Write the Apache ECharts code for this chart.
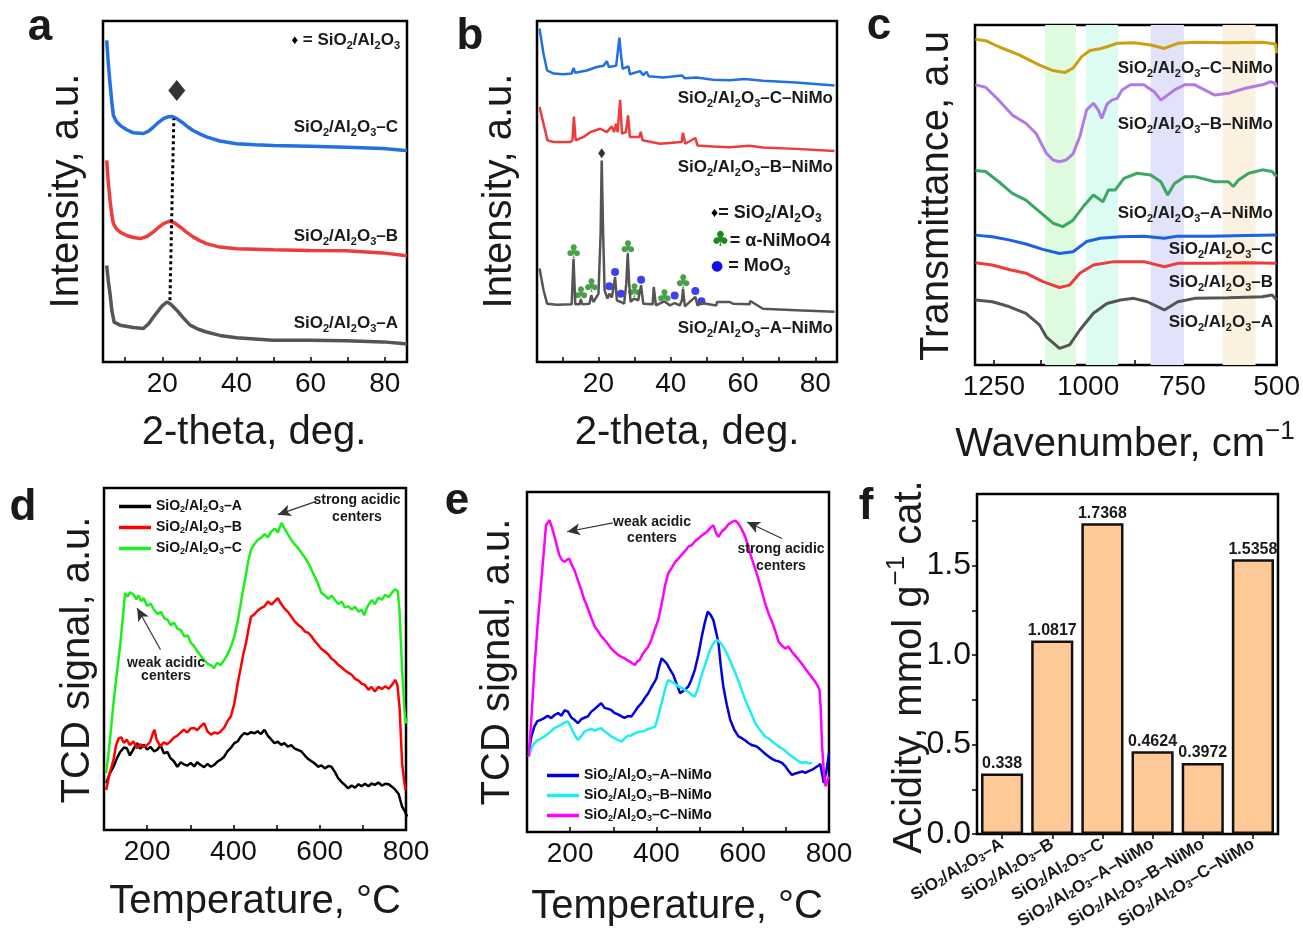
<!DOCTYPE html>
<html>
<head>
<meta charset="utf-8">
<script src="https://cdn.jsdelivr.net/npm/echarts@6/dist/echarts.min.js"></script>
<style>
  html, body { margin: 0; padding: 0; background: #fff; }
  #main { width: 1303px; height: 944px; }
</style>
</head>
<body>
<div id="main"></div>
<script>
// ---- panel a : XRD of supports (2-theta, relative intensity) ----
const xrdA_A = [[5.0,28.3],[5.4,24],[5.9,20.0],[6.4,15],[7.0,11.7],[8.6,10.8],[12.2,10.1],[14.9,9.8],[16.3,11.2],[17.6,13.2],[18.9,15.0],[19.9,16.4],[21.2,17.6],[22.2,17.0],[23.9,15.2],[25.6,13.0],[27.5,10.8],[29.7,9.6],[31.9,8.8],[35.5,7.8],[40,7.1],[49.9,6.4],[59.7,6.4],[69.6,6.2],[79.5,5.9],[84.8,5.4],[86,5.3]];
const xrdA_B = [[5.0,59.1],[5.4,53],[5.9,47.4],[6.4,43],[6.8,40.6],[7.6,39.1],[8.6,38.1],[10.4,37.1],[12.2,36.5],[14.0,36.2],[15.8,36.8],[17.6,38.1],[19.0,39.5],[20.3,40.6],[22.0,41.3],[23.4,40.7],[24.8,39.6],[26.5,38.1],[28.3,36.7],[30.1,35.6],[31.9,34.7],[35.5,33.7],[40,33.2],[49.9,32.9],[59.7,32.7],[69.6,32.6],[79.5,32.0],[84.8,31.3],[86,31.2]];
const xrdA_C = [[5.0,94.3],[5.4,88],[5.9,81.6],[6.4,76],[6.8,72.3],[7.6,70.5],[8.6,69.4],[10.4,68.1],[12.2,67.2],[14.9,67.0],[16.3,67.7],[17.6,68.9],[19.0,70.3],[20.3,71.4],[21.5,71.9],[22.7,72.0],[24.0,71.3],[25.2,70.4],[26.8,69.0],[28.3,67.9],[30.1,66.9],[31.9,66.0],[35.5,64.8],[40,64.0],[45,63.7],[49.9,63.5],[59.7,63.3],[69.6,63.0],[79.5,62.6],[84.8,62.1],[86,62.0]];
const aPeakMark = [[23.9, 79.6]];
const aGuide = [[22.06, 18.1], [23.1, 71.4]];
const aTickValues = [10, 20, 30, 40, 50, 60, 70, 80];
const aLabelValues = [20, 40, 60, 80];

// ---- panel b : XRD of NiMo catalysts ----
const xrdB_A = [[3.7,27.4],[4.8,21.1],[5.8,17.1],[8.5,16.8],[12.6,16.9],[13.1,30.3],[13.6,16.9],[14.8,16.9],[15.1,18.3],[15.6,16.9],[17.5,17.1],[18.0,19.6],[18.6,17.6],[20.0,20.0],[20.6,37.6],[20.9,59.1],[21.3,37.6],[21.7,21.0],[22.5,18.6],[23.0,20.0],[23.7,18.9],[24.2,22.0],[24.6,24.9],[25.1,18.1],[26.2,17.6],[27.1,17.1],[27.7,22.9],[28.1,31.8],[28.5,22.9],[28.9,17.6],[29.8,18.6],[31.0,18.1],[31.8,22.5],[32.4,17.1],[35.0,16.9],[35.3,22.0],[35.9,16.6],[38.2,17.8],[39.8,16.6],[41.1,17.3],[42.5,16.6],[43.1,18.1],[43.4,21.5],[43.9,16.3],[46.8,19.1],[47.4,16.6],[48.5,17.3],[52.6,16.6],[52.8,17.6],[56.3,17.6],[57.2,17.1],[61.8,16.9],[62.0,17.9],[65.5,15.6],[74.7,15.2],[85.3,14.7]];
const xrdB_B = [[3.7,74.8],[4.8,69.9],[5.9,65.0],[7.6,64.5],[12.2,64.5],[12.8,65.0],[13.2,72.0],[13.7,65.0],[15.9,66.0],[17.7,67.4],[20.5,68.4],[22.3,67.4],[23.7,69.1],[24.3,67.4],[24.9,69.9],[25.3,67.4],[26.0,76.9],[26.5,67.0],[27.6,67.4],[28.2,72.3],[28.7,66.0],[31.3,66.0],[31.7,67.5],[32.2,65.0],[37.0,64.0],[43.0,64.5],[43.4,67.2],[44.0,64.0],[46.8,65.7],[47.4,63.5],[51.7,63.2],[56.3,63.0],[61.8,63.4],[65.5,62.9],[74.7,62.5],[85.3,61.9]];
const xrdB_C = [[3.7,97.8],[4.8,90.4],[5.8,85.5],[7.6,84.6],[10.3,84.4],[12.6,84.6],[13.1,86.2],[13.6,84.8],[16.8,85.5],[19.5,86.5],[21.4,86.9],[22.3,88.2],[22.9,86.5],[24.9,86.9],[25.4,91.4],[25.8,95.1],[26.2,90.4],[26.7,86.0],[28.3,86.7],[28.7,84.4],[31.5,85.3],[32.4,84.1],[33.3,85.1],[33.9,83.8],[37.9,83.4],[43.2,84.0],[43.9,83.2],[47.1,83.4],[51.7,82.8],[56.3,82.6],[60.4,83.0],[65.5,82.5],[74.7,82.0],[85.3,81.1]];
const bSupportMark = [[20.9, 61.2]];
const bNiMoO4Marks = [[13.1,31.8],[15.1,19.6],[18.0,22.0],[28.1,33.2],[29.9,20.5],[38.2,18.8],[43.4,23.2]];
const bMoO3Marks = [[23.0,22.2],[24.6,26.4],[26.2,20.0],[31.8,24.1],[41.1,19.5],[46.8,20.8],[48.5,17.8]];

// ---- panel c : FTIR (wavenumber, transmittance) ----
const ftirA = [[1299,19.1],[1254,18.6],[1210,17.2],[1165,15.2],[1129,11.8],[1111,8.3],[1076,4.9],[1049,5.9],[1022,10.3],[986,15.2],[950,18.1],[914,19.1],[879,19.6],[843,18.6],[798,16.2],[762,18.6],[717,19.6],[628,19.8],[538,20.1],[512,20.6],[500,19.1]];
const ftirB = [[1299,30.1],[1254,29.4],[1210,28.1],[1165,27.0],[1120,24.5],[1076,22.8],[1049,23.5],[1022,27.0],[986,29.4],[932,30.4],[852,30.4],[798,28.9],[762,29.9],[673,29.9],[583,30.1],[500,29.9]];
const ftirC = [[1299,38.2],[1254,37.7],[1210,36.8],[1165,35.6],[1120,34.0],[1076,32.8],[1040,33.3],[1004,36.3],[968,37.3],[914,37.7],[852,37.9],[798,37.3],[762,37.9],[673,37.9],[583,38.1],[500,38.2]];
const ftirANiMo = [[1299,57.2],[1272,56.9],[1237,53.9],[1201,50.5],[1165,48.5],[1129,45.1],[1093,41.7],[1067,40.7],[1040,42.6],[1013,46.6],[986,50.0],[973,49.0],[961,48.0],[946,51.5],[928,51.5],[905,54.9],[870,56.4],[834,55.9],[807,53.9],[789,50.0],[771,53.4],[744,55.4],[717,55.4],[664,53.9],[628,53.9],[615,52.5],[601,54.4],[574,56.4],[538,57.4],[512,56.9],[500,55.4]];
const ftirBNiMo = [[1299,82.4],[1272,81.7],[1237,77.9],[1201,73.5],[1165,71.1],[1138,68.1],[1111,62.3],[1093,60.3],[1076,59.8],[1058,60.3],[1040,62.1],[1022,67.2],[1004,75.0],[986,77.0],[973,75.0],[964,72.5],[950,76.7],[937,77.9],[923,78.4],[910,80.9],[888,82.4],[852,82.4],[825,80.4],[807,77.9],[771,80.9],[744,82.4],[717,82.4],[664,79.4],[628,79.9],[583,81.4],[538,82.4],[516,83.3],[503,82.8],[500,81.7]];
const ftirCNiMo = [[1299,95.8],[1272,95.4],[1237,93.6],[1183,91.2],[1129,88.2],[1093,86.6],[1062,86.0],[1040,87.3],[1017,90.7],[995,92.5],[968,93.0],[950,93.6],[923,94.6],[879,94.8],[834,94.1],[798,93.1],[762,94.6],[717,94.9],[628,94.8],[538,94.9],[503,94.4],[500,91.7]];
const cBands = [[1114,1032],[1006,921],[834,746],[643,556]];
const cBandColors = ['#dffbdf', '#dcfbf2', '#e2e2fb', '#fbf1e0'];
const cTickValues = [1250, 1125, 1000, 875, 750, 625, 500];
const cLabelValues = [1250, 1000, 750, 500];

// ---- panel d : NH3-TPD of supports ----
const tpdA = [[105,13.7],[113,16.4],[122,18.5],[130,21.0],[138,22.9],[146,24.1],[153,23.9],[160,21.8],[168,23.6],[177,25.4],[184,23.8],[192,24.9],[200,23.5],[208,24.3],[216,23.0],[223,23.4],[231,24.8],[239,22.4],[247,22.8],[254,21.0],[262,20.1],[270,18.5],[278,19.8],[285,19.2],[293,18.8],[301,19.6],[309,18.6],[316,19.8],[324,19.0],[332,18.4],[340,19.3],[348,18.5],[355,19.0],[363,20.0],[371,20.6],[379,21.5],[386,23.0],[394,24.0],[402,25.4],[410,25.9],[417,27.3],[425,28.3],[433,28.0],[441,28.6],[449,28.3],[456,28.9],[464,28.1],[472,29.3],[480,27.5],[488,26.4],[495,25.4],[503,25.8],[511,24.9],[518,25.4],[526,24.4],[534,24.8],[542,23.8],[550,23.4],[558,22.9],[566,21.7],[573,20.8],[581,20.1],[589,19.4],[596,18.5],[604,18.9],[612,18.0],[620,18.7],[627,18.5],[635,17.0],[643,15.1],[651,14.0],[658,13.2],[666,12.2],[674,13.0],[682,12.4],[690,13.4],[697,12.8],[705,13.5],[713,12.8],[720,13.6],[728,13.2],[736,13.9],[744,13.0],[752,13.5],[760,13.4],[768,12.6],[775,11.8],[783,10.5],[791,6.8],[797,5.5],[803,3.9]];
const tpdB = [[105,11.7],[113,16.5],[122,20.5],[128,24.8],[134,26.8],[140,27.1],[146,25.5],[153,26.4],[160,24.8],[168,25.9],[177,23.9],[184,25.1],[192,24.3],[200,24.8],[207,25.8],[213,28.2],[217,29.3],[222,26.4],[231,24.4],[238,25.6],[246,25.1],[254,25.9],[262,27.0],[270,27.6],[277,28.4],[285,29.3],[293,28.5],[301,29.7],[309,29.8],[316,29.2],[324,30.3],[332,31.2],[340,28.8],[348,27.9],[356,28.5],[364,28.2],[371,28.9],[379,30.0],[387,32.0],[394,33.2],[402,37],[410,42.9],[417,47.5],[423,51.5],[429,54.6],[435,58.8],[441,62.4],[448,63.0],[456,64.1],[464,64.9],[472,65.4],[480,66.8],[488,65.9],[495,66.8],[503,67.8],[510,66.2],[518,64.8],[526,63.8],[534,62.4],[542,61.0],[550,60.0],[558,59.2],[566,58.0],[574,57.6],[581,56.6],[589,55.2],[597,54.0],[604,52.9],[612,52.2],[620,51.3],[628,50.0],[635,49.4],[643,48.3],[651,47.5],[658,46.7],[666,46.0],[674,45.4],[682,44.2],[690,43.7],[697,42.8],[705,42.4],[713,41.0],[720,41.8],[728,40.5],[736,41.9],[744,41.2],[752,42.0],[760,41.3],[768,42.5],[775,43.9],[780,42.5],[785,36],[791,19.5],[796,14],[799,11.7]];
const tpdC = [[105,16.6],[112,24],[122,37.1],[130,46],[138,54.6],[145,64],[149,69.3],[155,68.2],[160,69.5],[169,68.8],[175,67.4],[180,68.6],[186,66.9],[192,67.8],[200,65.5],[208,66.2],[216,64.4],[224,63.2],[232,63.8],[240,61.9],[247,61.5],[255,59.8],[262,60.7],[270,58.9],[278,58.5],[286,56.6],[294,56.9],[301,54.8],[309,53.7],[316,52.3],[324,51.0],[332,49.8],[340,48.6],[348,48.2],[355,47.3],[362,48.9],[370,48.2],[379,49.8],[386,51.3],[394,53.5],[402,56.6],[410,61],[416,65.5],[421,69.3],[428,74],[434,78.5],[441,82],[448,83.5],[456,84.8],[464,85.4],[472,86.5],[480,85.6],[488,87.3],[496,88.1],[503,87.0],[511,89.8],[518,88.3],[526,86.5],[534,84.9],[542,83.5],[550,82.4],[558,81.0],[566,79.6],[574,78.0],[581,76.1],[589,74.0],[596,72.0],[604,69.3],[612,68.6],[620,67.6],[628,68.5],[635,67.3],[643,66.1],[651,66.8],[658,65.1],[666,65.4],[674,64.5],[682,65.3],[690,63.8],[697,64.4],[703,62.8],[710,65.2],[721,67.3],[728,66.0],[736,68.0],[744,67.3],[752,68.8],[760,68.1],[768,69.5],[775,70.4],[781,69.8],[785,64],[791,46.8],[796,36],[799,31.2],[803,32.8]];
const dArrowStrong = [[592, 96.1], [503, 92.2]];
const dArrowWeak = [[231, 52.7], [177, 64.9]];

// ---- panel e : NH3-TPD of NiMo catalysts ----
const tpdANiMo = [[104,23.2],[110,28],[117,31.0],[124,32.6],[132,33.0],[140,33.5],[148,34.2],[156,33.5],[164,34.4],[172,35.0],[180,34.2],[187,35.8],[195,35.4],[203,33.6],[210,33.0],[218,32.0],[226,33.2],[233,33.6],[241,34.0],[249,35.4],[257,36.2],[264,37.0],[272,37.9],[280,36.5],[288,36.2],[295,35.9],[303,35.0],[311,34.6],[319,34.0],[326,33.6],[334,34.1],[342,34.0],[350,35.4],[358,36.9],[366,38.0],[373,39.4],[381,40.8],[388,42.5],[396,44.2],[400,45.2],[406,48.5],[412,51.1],[418,50.3],[424,49.5],[431,47.9],[439,46.2],[447,43.5],[455,40.8],[462,41.5],[468,42.0],[474,42.8],[481,44.8],[489,47.7],[497,52.0],[505,57.4],[512,61.5],[519,64.8],[526,63.8],[532,62.3],[538,59.0],[544,55.5],[549,49],[555,42.8],[563,37.5],[571,33.0],[580,30.2],[590,28.1],[598,27.6],[606,26.9],[614,26.1],[622,25.5],[630,25.3],[637,24.7],[645,23.8],[652,23.0],[660,22.2],[668,21.5],[676,21.0],[683,20.8],[691,20.3],[699,19.3],[706,18.0],[714,16.8],[722,17.2],[730,17.5],[738,17.8],[745,17.4],[753,17.9],[761,18.3],[768,18.9],[775,19.5],[780,20.0],[784,17],[788,14.4],[794,18],[800,23.2]];
const tpdBNiMo = [[104,22.2],[110,24.5],[117,26.1],[124,27.0],[132,27.4],[140,28.1],[148,28.8],[156,29.7],[164,30.6],[171,31.0],[180,31.6],[187,32.2],[195,32.5],[203,30.5],[210,28.6],[218,27.1],[226,28.2],[233,29.5],[241,30.0],[249,30.3],[257,29.8],[264,30.2],[272,30.5],[280,29.6],[288,28.8],[295,28.1],[303,27.6],[311,27.0],[319,26.6],[326,27.5],[334,28.3],[342,28.4],[350,29.0],[358,29.4],[366,29.6],[373,29.8],[381,30.3],[389,30.6],[397,31.0],[404,34.0],[412,37.9],[420,42.0],[427,44.7],[435,44.2],[443,43.6],[451,42.8],[459,42.4],[466,41.8],[474,41.2],[482,40.3],[489,39.8],[497,42.5],[503,45.5],[509,47.7],[516,50.5],[524,53.5],[532,55.5],[540,56.5],[547,55.8],[553,54.9],[559,53.6],[567,51.5],[575,49.1],[583,46.7],[590,44.5],[598,41.6],[606,38.8],[614,36.5],[622,34.2],[629,32.0],[637,30.5],[645,29.2],[652,28.1],[660,27.5],[668,26.6],[676,25.9],[683,25.1],[691,24.6],[699,23.8],[706,23.0],[714,22.2],[722,21.5],[730,20.8],[738,20.3],[745,20.6],[753,20.2],[761,20.3]];
const tpdCNiMo = [[104,22.2],[110,33],[117,47.7],[124,60],[132,72.1],[138,81],[144,90.2],[152,91.7],[158,89.5],[164,86.8],[170,83.8],[175,81.4],[181,80.0],[187,79.5],[193,80.1],[198,80.4],[204,78.5],[210,77.0],[218,74.0],[226,71.1],[233,68.3],[241,65.8],[249,63.0],[257,60.4],[264,59.2],[272,57.6],[280,56.5],[288,55.2],[295,54.0],[303,53.0],[311,52.1],[319,51.5],[326,51.1],[334,50.4],[342,49.8],[350,49.1],[356,50.2],[361,50.6],[368,52.3],[375,53.5],[381,54.5],[388,56.5],[396,59.5],[404,62.3],[412,67],[420,72.5],[427,76.0],[435,77.6],[443,79.3],[451,80.4],[459,81.6],[466,82.6],[474,83.9],[482,84.4],[490,85.6],[497,86.3],[505,87.2],[513,87.9],[520,88.7],[526,89.6],[532,90.2],[538,88.0],[544,86.8],[551,88.3],[559,89.2],[567,90.5],[575,91.2],[583,91.6],[590,90.7],[598,89.0],[606,86.8],[613,83.8],[621,80.4],[629,77.4],[637,74.1],[645,70.5],[652,67.2],[660,64.2],[668,61.8],[676,58.9],[683,56.0],[691,54.8],[699,54.0],[706,54.5],[714,53.0],[722,51.8],[730,50.6],[738,49.3],[745,48.0],[753,46.7],[761,45.4],[768,44.2],[774,43.0],[778,41.8],[781,36],[784,25.1],[788,18],[792,13.4],[796,15],[800,16.3]];
const eArrowWeak = [[299, 90.9], [193, 88.3]];
const eArrowStrong = [[691, 86.3], [610, 91.2]];
const tempTickValues = [200, 300, 400, 500, 600, 700, 800];
const tempLabelValues = [200, 400, 600, 800];

// ---- panel f : total acidity ----
const acidCategories = ['SiO2/Al2O3–A', 'SiO2/Al2O3–B', 'SiO2/Al2O3–C', 'SiO2/Al2O3–A–NiMo', 'SiO2/Al2O3–B–NiMo', 'SiO2/Al2O3–C–NiMo'];
const acidValues = [0.338, 1.0817, 1.7368, 0.4624, 0.3972, 1.5358];
const acidLabels = ['0.338', '1.0817', '1.7368', '0.4624', '0.3972', '1.5358'];
const acidTickValues = [0, 0.25, 0.5, 0.75, 1, 1.25, 1.5, 1.75];
const acidLabelValues = [0, 0.5, 1, 1.5];

const FONT = "'Liberation Sans', Arial, Helvetica, sans-serif";

// SiO2/Al2O3 -> rich text with subscripts
function chem(s) {
  return s.replace(/([A-Za-z])([23])/g, '$1{s|$2}');
}

function richFor(fs, weight, colorKey) {
  const sub = Math.round(fs * 0.64);
  const c = {};
  c[colorKey] = '#1a1a1a';
  return {
    s: Object.assign({ fontSize: sub, fontWeight: weight, fontFamily: FONT, verticalAlign: 'bottom', lineHeight: sub }, c),
    u: Object.assign({ fontSize: sub, fontWeight: weight, fontFamily: FONT, verticalAlign: 'top', lineHeight: sub }, c),
    d: { fontSize: Math.round(fs * 0.75), fontFamily: FONT, [colorKey]: '#000' },
    c: { fontSize: Math.round(fs * 1.15), fontFamily: 'DejaVu Sans', [colorKey]: '#1a8a1a' },
    m: { fontSize: Math.round(fs * 0.8), fontFamily: 'DejaVu Sans', [colorKey]: '#1010ee' }
  };
}

function txt(x, y, text, o) {
  o = o || {};
  const fs = o.fs || 17;
  const w = o.w || 'bold';
  return {
    type: 'text', x: x, y: y, rotation: o.rot || 0, silent: true, z: 100,
    style: {
      text: text, fontSize: fs, fontWeight: w, fontFamily: FONT,
      fill: o.color || '#1a1a1a', align: o.align || 'center', verticalAlign: 'middle',
      lineHeight: Math.round(fs * 1.3), rich: richFor(fs, w, 'fill')
    }
  };
}

const grids = [
  { left: 103, top: 21, width: 304, height: 341 },
  { left: 537, top: 21, width: 300, height: 341 },
  { left: 975, top: 25, width: 302, height: 340 },
  { left: 104, top: 488, width: 302, height: 342 },
  { left: 527, top: 492, width: 302, height: 340 },
  { left: 977, top: 494, width: 301, height: 340 }
].map(g => Object.assign(g, { show: true, borderColor: '#000', borderWidth: 2.5, backgroundColor: 'transparent' }));

function xValue(gi, min, max, ticks, labels, extra) {
  return Object.assign({
    type: 'value', gridIndex: gi, min: min, max: max,
    axisLine: { show: false }, splitLine: { show: false },
    axisTick: { show: true, inside: true, length: 5, customValues: ticks, lineStyle: { color: '#000', width: 1.5 } },
    axisLabel: { customValues: labels, formatter: v => String(v), fontSize: 28, color: '#111', fontFamily: FONT, margin: 8 }
  }, extra || {});
}
function yHidden(gi) {
  return { type: 'value', gridIndex: gi, min: 0, max: 100, show: false };
}

function line(gi, name, data, color, width) {
  return {
    type: 'line', name: name, xAxisIndex: gi, yAxisIndex: gi, data: data,
    symbol: 'none', showSymbol: false, animation: false, silent: true,
    lineStyle: { color: color, width: width || 2.5 }, itemStyle: { color: color }
  };
}
function arrows(list) {
  return {
    silent: true, symbol: ['none', 'arrow'], symbolSize: [9, 13], animation: false,
    label: { show: false }, lineStyle: { color: '#333', width: 1.2, type: 'solid' },
    data: list.map(a => [{ coord: a[0] }, { coord: a[1] }])
  };
}

const series = [];
// a
series.push(line(0, 'a-A', xrdA_A, '#555555', 3.5));
series[series.length - 1].markLine = {
  silent: true, symbol: ['none', 'none'], animation: false, label: { show: false },
  lineStyle: { color: '#000', width: 3, type: [3, 3] },
  data: [[{ coord: aGuide[0] }, { coord: aGuide[1] }]]
};
series.push(line(0, 'a-B', xrdA_B, '#ee3b3b', 3.5));
series.push(line(0, 'a-C', xrdA_C, '#2270e2', 3.5));
series.push({ type: 'scatter', xAxisIndex: 0, yAxisIndex: 0, data: aPeakMark, symbol: 'diamond', symbolSize: [17, 21], itemStyle: { color: '#000' }, silent: true, animation: false });
// b
series.push(line(1, 'b-A', xrdB_A, '#555555', 2.5));
series.push(line(1, 'b-B', xrdB_B, '#ee3b3b', 2.5));
series.push(line(1, 'b-C', xrdB_C, '#2270e2', 2.5));
series.push({ type: 'scatter', xAxisIndex: 1, yAxisIndex: 1, data: bSupportMark, symbol: 'diamond', symbolSize: [7, 10], itemStyle: { color: '#000' }, silent: true, animation: false });
series.push({ type: 'scatter', xAxisIndex: 1, yAxisIndex: 1, data: bMoO3Marks, symbol: 'circle', symbolSize: 8, itemStyle: { color: '#1010ee' }, silent: true, animation: false });
series.push({ type: 'scatter', xAxisIndex: 1, yAxisIndex: 1, data: bNiMoO4Marks, symbol: 'circle', symbolSize: 1,
  itemStyle: { color: 'rgba(0,0,0,0)' }, silent: true, animation: false,
  label: { show: true, position: 'inside', formatter: '♣', fontSize: 19, fontFamily: 'DejaVu Sans', color: '#1a8a1a' } });
// c
const cFirst = line(2, 'c-A', ftirA, '#555555', 3);
cFirst.markArea = {
  silent: true, animation: false,
  data: cBands.map((b, i) => [{ xAxis: b[0], itemStyle: { color: cBandColors[i] } }, { xAxis: b[1] }])
};
series.push(cFirst);
series.push(line(2, 'c-B', ftirB, '#ee3b3b', 3));
series.push(line(2, 'c-C', ftirC, '#1a62e0', 3));
series.push(line(2, 'c-ANiMo', ftirANiMo, '#3aa862', 3));
series.push(line(2, 'c-BNiMo', ftirBNiMo, '#b27ae6', 3));
series.push(line(2, 'c-CNiMo', ftirCNiMo, '#c9a010', 3));
// d
const dA = line(3, 'SiO2/Al2O3–A', tpdA, '#000000', 2.5);
dA.markLine = arrows([dArrowStrong, dArrowWeak]);
series.push(dA);
series.push(line(3, 'SiO2/Al2O3–B', tpdB, '#ff0000', 2.5));
series.push(line(3, 'SiO2/Al2O3–C', tpdC, '#1cf01c', 2.5));
// e
const eA = line(4, 'SiO2/Al2O3–A–NiMo', tpdANiMo, '#0000e0', 2.5);
eA.markLine = arrows([eArrowWeak, eArrowStrong]);
series.push(eA);
series.push(line(4, 'SiO2/Al2O3–B–NiMo', tpdBNiMo, '#1eeeee', 2.5));
series.push(line(4, 'SiO2/Al2O3–C–NiMo', tpdCNiMo, '#ff00ff', 2.5));
// f
series.push({
  type: 'bar', xAxisIndex: 5, yAxisIndex: 5, data: acidValues, barWidth: '84%',
  silent: true, animation: false,
  itemStyle: { color: '#fdc996', borderColor: '#111', borderWidth: 2.5 },
  label: { show: true, position: 'top', distance: 2, fontSize: 16, fontWeight: 'bold', fontFamily: FONT, color: '#1a1a1a',
    formatter: p => acidLabels[p.dataIndex] }
});

const legendBase = {
  orient: 'vertical', itemWidth: 32, itemHeight: 3.5, icon: 'rect', selectedMode: false,
  formatter: n => chem(n),
  textStyle: { fontSize: 14, lineHeight: 15, fontWeight: 'bold', fontFamily: FONT, color: '#111', rich: richFor(14, 'bold', 'color') }
};

const graphic = [
  // panel letters
  txt(40, 28, 'a', { fs: 44 }), txt(470, 37, 'b', { fs: 44 }), txt(879, 27, 'c', { fs: 44 }),
  txt(23, 508, 'd', { fs: 44 }), txt(457, 502, 'e', { fs: 44 }), txt(866, 507, 'f', { fs: 44 }),
  // a
  txt(400, 40, '{d|♦} = ' + chem('SiO2/Al2O3'), { align: 'right' }),
  txt(398, 127, chem('SiO2/Al2O3–C'), { align: 'right' }),
  txt(398, 236, chem('SiO2/Al2O3–B'), { align: 'right' }),
  txt(398, 323, chem('SiO2/Al2O3–A'), { align: 'right' }),
  txt(67, 191, 'Intensity, a.u.', { fs: 40, w: 'normal', rot: Math.PI / 2 }),
  txt(254, 433, '2-theta, deg.', { fs: 40, w: 'normal' }),
  // b
  txt(833, 98, chem('SiO2/Al2O3–C–NiMo'), { align: 'right' }),
  txt(833, 167, chem('SiO2/Al2O3–B–NiMo'), { align: 'right' }),
  txt(833, 328, chem('SiO2/Al2O3–A–NiMo'), { align: 'right' }),
  txt(711, 213, '{d|♦}= ' + chem('SiO2/Al2O3'), { align: 'left', fs: 18 }),
  txt(711, 241, '{c|♣}= α-NiMoO4', { align: 'left', fs: 18 }),
  txt(711, 266, '{m|●} = MoO{s|3}', { align: 'left', fs: 18 }),
  txt(500, 191, 'Intensity, a.u.', { fs: 40, w: 'normal', rot: Math.PI / 2 }),
  txt(687, 433, '2-theta, deg.', { fs: 40, w: 'normal' }),
  // c
  txt(1273, 68, chem('SiO2/Al2O3–C–NiMo'), { align: 'right' }),
  txt(1273, 124, chem('SiO2/Al2O3–B–NiMo'), { align: 'right' }),
  txt(1273, 213, chem('SiO2/Al2O3–A–NiMo'), { align: 'right' }),
  txt(1273, 249, chem('SiO2/Al2O3–C'), { align: 'right' }),
  txt(1273, 282, chem('SiO2/Al2O3–B'), { align: 'right' }),
  txt(1273, 322, chem('SiO2/Al2O3–A'), { align: 'right' }),
  txt(937, 196, 'Transmittance, a.u', { fs: 40, w: 'normal', rot: Math.PI / 2 }),
  txt(1125, 445, 'Wavenumber, cm{u|−1}', { fs: 40, w: 'normal' }),
  // d
  txt(357, 500, 'strong acidic', { fs: 14 }), txt(357, 517, 'centers', { fs: 14 }),
  txt(166, 663, 'weak acidic', { fs: 14 }), txt(166, 676, 'centers', { fs: 14 }),
  txt(78, 660, 'TCD signal, a.u.', { fs: 40, w: 'normal', rot: Math.PI / 2 }),
  txt(255, 902, 'Temperature, °C', { fs: 40, w: 'normal' }),
  // e
  txt(652, 522, 'weak acidic', { fs: 14 }), txt(652, 538, 'centers', { fs: 14 }),
  txt(781, 549, 'strong acidic', { fs: 14 }), txt(781, 566, 'centers', { fs: 14 }),
  txt(498, 662, 'TCD signal, a.u.', { fs: 40, w: 'normal', rot: Math.PI / 2 }),
  txt(677, 907, 'Temperature, °C', { fs: 40, w: 'normal' }),
  // f
  txt(910, 667, 'Acidity, mmol g{u|−1} cat.', { fs: 40, w: 'normal', rot: Math.PI / 2 })
];

const option = {
  backgroundColor: '#fff',
  animation: false,
  grid: grids,
  xAxis: [
    xValue(0, 4, 86, aTickValues, aLabelValues),
    xValue(1, 3, 86, aTickValues, aLabelValues),
    xValue(2, 500, 1300, cTickValues, cLabelValues, { inverse: true }),
    xValue(3, 100, 800, tempTickValues, tempLabelValues),
    xValue(4, 100, 800, tempTickValues, tempLabelValues),
    {
      type: 'category', gridIndex: 5, data: acidCategories,
      axisLine: { show: false }, splitLine: { show: false },
      axisTick: { show: true, alignWithLabel: true, length: 5, lineStyle: { color: '#000', width: 1.5 } },
      axisLabel: { interval: 0, rotate: 31, margin: 9, fontSize: 17, fontWeight: 'bold', fontFamily: FONT, color: '#1a1a1a',
        formatter: v => chem(v), rich: richFor(17, 'bold', 'color') }
    }
  ],
  yAxis: [
    yHidden(0), yHidden(1), yHidden(2), yHidden(3), yHidden(4),
    {
      type: 'value', gridIndex: 5, min: 0, max: 1.9,
      axisLine: { show: false }, splitLine: { show: false },
      axisTick: { show: true, length: 5, customValues: acidTickValues, lineStyle: { color: '#000', width: 1.5 } },
      axisLabel: { customValues: acidLabelValues, formatter: v => v.toFixed(1), fontSize: 32, color: '#111', fontFamily: FONT, margin: 6 }
    }
  ],
  legend: [
    Object.assign({ data: ['SiO2/Al2O3–A', 'SiO2/Al2O3–B', 'SiO2/Al2O3–C'], left: 114, top: 494, itemGap: 6 }, legendBase),
    Object.assign({ data: ['SiO2/Al2O3–A–NiMo', 'SiO2/Al2O3–B–NiMo', 'SiO2/Al2O3–C–NiMo'], left: 542, top: 763, itemGap: 5 }, legendBase)
  ],
  series: series,
  graphic: graphic
};

const chart = echarts.init(document.getElementById('main'), null, { renderer: 'canvas' });
chart.setOption(option);
</script>
</body>
</html>
